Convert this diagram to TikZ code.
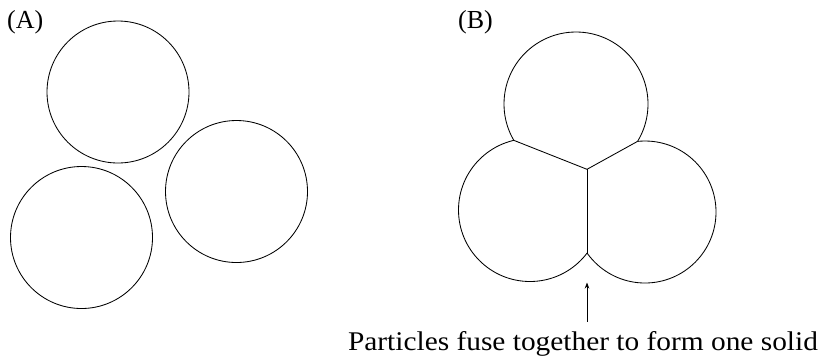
\documentclass[tikz,border=0pt]{standalone}
\usepackage{fontspec}
\setmainfont{Liberation Serif}
\usetikzlibrary{arrows.meta}
\begin{document}
\begin{tikzpicture}[x=1pt,y=-1pt,
  particle/.style={draw=black,line width=0.85pt},
  boundary/.style={draw=black,line width=0.85pt},
  lbl/.style={inner sep=0pt,font=\fontsize{26}{30}\selectfont},
  pointer/.style={draw=black,line width=0.85pt,-{Stealth[length=6pt,width=4.5pt]}}]
\useasboundingbox (0,0) rectangle (827,360);
\fill[white] (0,0) rectangle (827,360);
% (A) separate particles
\node[lbl,anchor=base west] (labA) at (7,28) {(A)};
\draw[particle] (118,92) circle (71pt);
\draw[particle] (236.5,191.5) circle (71pt);
\draw[particle] (81.5,237.5) circle (71pt);
% (B) fused particles
\node[lbl,anchor=base west] (labB) at (458,28) {(B)};
\coordinate (cT) at (576,104);
\coordinate (cL) at (530,210);
\coordinate (cR) at (645,212);
% top circle, outside left and right
\begin{scope}[even odd rule]
  \clip (0,0) rectangle (827,360) (cL) circle (71.5pt);
  \clip (0,0) rectangle (827,360) (cR) circle (71pt);
  \draw[particle] (cT) circle (72pt);
\end{scope}
% left circle
\begin{scope}[even odd rule]
  \clip (0,0) rectangle (827,360) (cT) circle (72pt);
  \clip (0,0) rectangle (827,360) (cR) circle (71pt);
  \draw[particle] (cL) circle (71.5pt);
\end{scope}
% right circle
\begin{scope}[even odd rule]
  \clip (0,0) rectangle (827,360) (cT) circle (72pt);
  \clip (0,0) rectangle (827,360) (cL) circle (71.5pt);
  \draw[particle] (cR) circle (71pt);
\end{scope}
% grain boundaries
\coordinate (jTL) at (513.85,140.35);
\coordinate (jTR) at (637.5,141.4);
\coordinate (jLR) at (587,253.05);
\coordinate (jC) at (587,169.3);
\draw[boundary] (jTL) -- (jC) -- (jTR);
\draw[boundary] (jC) -- (jLR);
% caption and pointer
\node[inner sep=0pt,anchor=base] (cap) at (583,350.7)
  {\scalebox{1.088}[1]{\fontsize{27}{32}\selectfont Particles fuse together to form one solid}};
\coordinate (tail) at (587,321.7);
\coordinate (tip) at (587,282.5);
\draw[pointer] (tail) -- (tip);
\end{tikzpicture}
\end{document}
